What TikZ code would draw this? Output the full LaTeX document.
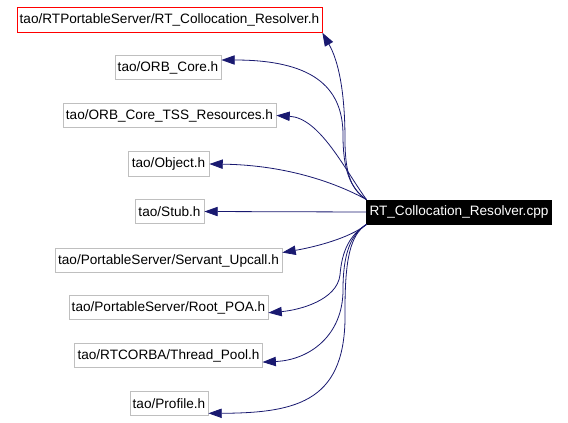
\documentclass[tikz,border=0pt]{standalone}
\usepackage{fontspec}
\setmainfont{Liberation Sans}
\usetikzlibrary{arrows.meta}
\definecolor{edgeblue}{HTML}{191970}
\definecolor{boxgray}{HTML}{BFBFBF}

\begin{document}
\begin{tikzpicture}[->,>={Triangle[length=10pt,width=7pt]},x=0.75pt,y=-0.75pt,
line width=0.6pt,draw=edgeblue,
every node/.style={rectangle,draw=boxgray,text=black,inner xsep=2pt,
minimum height=18.5pt,font=\fontsize{10.2}{11}\selectfont},
wd/.style={minimum width=#1*0.75pt},
cur/.style={draw=red},
src/.style={fill=black,draw=black,text=white,minimum height=18pt}]
\useasboundingbox (0,0) rectangle (568,422);

\node[cur,wd=301] (r) at (169.5, 20) {tao/RTPortableServer/RT\_Collocation\_Resolver.h};
\node[wd=106] (o) at (168, 67.5) {tao/ORB\_Core.h};
\node[wd=213] (t) at (169.5, 115.5) {tao/ORB\_Core\_TSS\_Resources.h};
\node[wd=81] (ob) at (168.5, 164) {tao/Object.h};
\node[wd=69] (s) at (169.5, 211.5) {tao/Stub.h};
\node[wd=227] (u) at (168.5, 260.5) {tao/PortableServer/Servant\_Upcall.h};
\node[wd=199] (p) at (168.5, 307.5) {tao/PortableServer/Root\_POA.h};
\node[wd=185] (tp) at (168.5, 355.5) {tao/RTCORBA/Thread\_Pool.h};
\node[wd=78] (pf) at (169, 403.5) {tao/Profile.h};
\node[src,wd=184] (c) at (459, 212) {RT\_Collocation\_Resolver.cpp};

\draw (c.north west) .. controls (352,190) and (345,175) .. (345,140)
  .. controls (345,90) and (338,60) .. (r.south east);
\draw (c.north west) .. controls (350,188) and (343,170) .. (343,135)
  .. controls (343,85) and (310,60) .. (o.8);
\draw (c.north west) .. controls (345,170) and (320,118) .. (t.east);
\draw (c.north west) .. controls (340,185) and (290,165) .. (ob.east);
\draw (c.west) -- (s.east);
\draw (c.south west) .. controls (350,238) and (315,247) .. (u.4);
\draw (c.south west) .. controls (350,235) and (342,250) .. (340,275)
  .. controls (337,300) and (300,310) .. (p.-3);
\draw (c.south west) .. controls (350,235) and (343,255) .. (343,290)
  .. controls (343,335) and (310,360) .. (tp.-4);
\draw (c.south west) .. controls (350,235) and (345,260) .. (345,310)
  .. controls (347,400) and (300,413) .. (pf.-14);
\end{tikzpicture}
\end{document}
